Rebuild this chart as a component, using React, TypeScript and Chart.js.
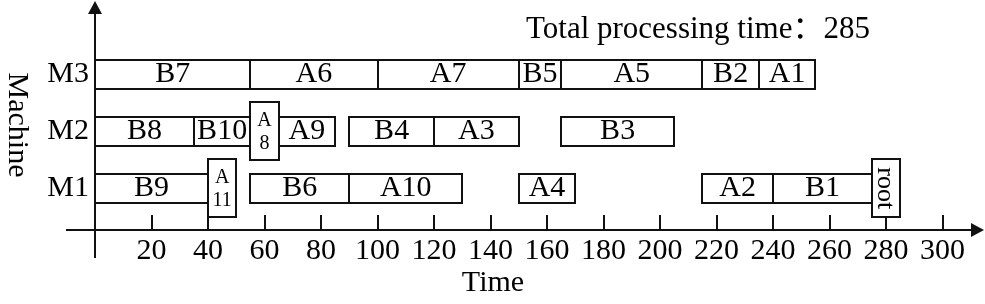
import React, { useEffect, useRef } from 'react';
import { Chart, registerables } from 'chart.js';
Chart.register(...registerables);

// ---- data ----
const tasks = ['B7', 'A6', 'A7', 'B5', 'A5', 'B2', 'A1', 'B8', 'B10', 'A8', 'A9', 'B4', 'A3', 'B3', 'B9', 'A11', 'B6', 'A10', 'A4', 'A2', 'B1', 'root'];
const machines = [3, 3, 3, 3, 3, 3, 3, 2, 2, 2, 2, 2, 2, 2, 1, 1, 1, 1, 1, 1, 1, 1];
const starts = [0, 55, 100, 150, 165, 215, 235, 0, 35, 55, 65, 90, 120, 165, 0, 40, 55, 90, 150, 215, 240, 275];
const ends = [55, 100, 150, 165, 215, 235, 255, 35, 55, 65, 85, 120, 150, 205, 40, 50, 90, 130, 170, 240, 275, 285];
const tallTasks = ['A8', 'A11', 'root'];
const machineValues = [1, 2, 3];
const machineNames = ['M1', 'M2', 'M3'];
const xTicks = [20, 40, 60, 80, 100, 120, 140, 160, 180, 200, 220, 240, 260, 280, 300];
const totalTime = 285;
const xTitle = 'Time';
const yTitle = 'Machine';

const FONT = '"Liberation Serif", "Times New Roman", "Noto Sans CJK SC", serif';
const LINE = '#111';
const FS = 30;

export default function App() {
  const ref = useRef<HTMLCanvasElement>(null);
  useEffect(() => {
    const canvas = ref.current;
    if (!canvas) return;
    const isTall = (i: number) => tallTasks.includes(tasks[i]);
    const datasets = tasks.map((name, i) => {
      const tall = isTall(i);
      return {
        label: name,
        data: [{ x: [starts[i], ends[i]], y: machines[i] }],
        backgroundColor: '#fff',
        borderColor: LINE,
        borderWidth: 0,
        borderSkipped: false,
        barThickness: tall ? 58 : 29,
        maxBarThickness: tall ? 58 : 29,
        grouped: false,
        order: tall ? 0 : 1,
        inflateAmount: 0,
      } as any;
    });

    const overlay = {
      id: 'overlay',
      beforeDatasetsDraw(chart: any) {
        const { ctx, scales } = chart;
        const x = scales.x, y = scales.y;
        const x0 = Math.round(x.getPixelForValue(0));
        const yb = Math.round(y.getPixelForValue(y.min));
        ctx.save();
        ctx.strokeStyle = LINE;
        ctx.fillStyle = LINE;
        ctx.lineWidth = 2;
        // horizontal axis
        const xl = x0 - 29;
        const tipX = chart.width - 1;
        ctx.beginPath();
        ctx.moveTo(xl, yb);
        ctx.lineTo(tipX - 10, yb);
        ctx.stroke();
        ctx.beginPath();
        ctx.moveTo(tipX, yb);
        ctx.lineTo(tipX - 13, yb - 7);
        ctx.lineTo(tipX - 13, yb + 7);
        ctx.closePath();
        ctx.fill();
        // vertical axis
        const tipY = 1;
        ctx.beginPath();
        ctx.moveTo(x0, yb + 28);
        ctx.lineTo(x0, tipY + 10);
        ctx.stroke();
        ctx.beginPath();
        ctx.moveTo(x0, tipY);
        ctx.lineTo(x0 - 7, tipY + 13);
        ctx.lineTo(x0 + 7, tipY + 13);
        ctx.closePath();
        ctx.fill();
        // tick marks (inward)
        for (const v of xTicks) {
          const px = Math.round(x.getPixelForValue(v));
          ctx.beginPath();
          ctx.moveTo(px, yb);
          ctx.lineTo(px, yb - 15);
          ctx.stroke();
        }
        ctx.restore();
      },
      afterDatasetsDraw(chart: any) {
        const { ctx } = chart;
        ctx.save();
        // outlines: normal bars first, then tall boxes on top
        const metas = chart.data.datasets.map((ds: any, di: number) => ({ ds, el: chart.getDatasetMeta(di).data[0] }));
        const drawBox = (el: any, fill: boolean) => {
          const p = el.getProps(['x', 'base', 'y', 'height'], true);
          const l = Math.round(Math.min(p.x, p.base));
          const r = Math.round(Math.max(p.x, p.base));
          const t = Math.round(p.y - p.height / 2);
          const b = Math.round(p.y + p.height / 2);
          if (fill) {
            ctx.fillStyle = '#fff';
            ctx.fillRect(l, t, r - l, b - t);
          }
          ctx.strokeStyle = LINE;
          ctx.lineWidth = 2;
          ctx.strokeRect(l, t, r - l, b - t);
        };
        metas.filter((m: any) => m.el && !tallTasks.includes(m.ds.label)).forEach((m: any) => drawBox(m.el, false));
        metas.filter((m: any) => m.el && tallTasks.includes(m.ds.label)).forEach((m: any) => drawBox(m.el, true));

        ctx.fillStyle = '#000';
        ctx.textAlign = 'center';
        ctx.textBaseline = 'middle';
        metas.forEach((m: any) => {
          if (!m.el) return;
          const p = m.el.getProps(['x', 'base', 'y', 'height'], true);
          const cx = (p.x + p.base) / 2;
          const cy = p.y;
          const name: string = m.ds.label;
          if (name === 'root') {
            ctx.save();
            ctx.translate(cx, cy);
            ctx.rotate(Math.PI / 2);
            ctx.font = `26px ${FONT}`;
            ctx.fillText(name, 0, 1);
            ctx.restore();
          } else if (tallTasks.includes(name)) {
            ctx.font = `20px ${FONT}`;
            ctx.fillText(name.slice(0, 1), cx, cy - 11);
            ctx.fillText(name.slice(1), cx, cy + 12);
          } else {
            ctx.font = `${FS}px ${FONT}`;
            ctx.fillText(name, cx, cy);
          }
        });
        // titles
        ctx.font = `${FS}px ${FONT}`;
        ctx.fillText(xTitle, 493, 283);
        ctx.save();
        ctx.translate(17, 125);
        ctx.rotate(Math.PI / 2);
        ctx.fillText(yTitle, 0, 0);
        ctx.restore();
        ctx.textAlign = 'left';
        ctx.textBaseline = 'alphabetic';
        ctx.font = `31px ${FONT}`;
        ctx.fillText(`Total processing time：${totalTime}`, 526, 38);
        ctx.restore();
      },
    };

    const chart = new Chart(canvas, {
      type: 'bar',
      data: { datasets },
      options: {
        indexAxis: 'y',
        animation: false,
        responsive: false,
        maintainAspectRatio: false,
        layout: { padding: { top: 20, right: 42.5, left: 0, bottom: 0 } },
        plugins: { legend: { display: false }, tooltip: { enabled: false }, title: { display: false } },
        scales: {
          x: {
            type: 'linear',
            position: 'bottom',
            offset: false,
            min: 0,
            max: 300,
            grid: { display: false, drawTicks: false, offset: false },
            border: { display: false },
            afterBuildTicks: (s: any) => { s.ticks = xTicks.map((v) => ({ value: v })); },
            afterFit: (s: any) => { s.height = 74; },
            ticks: { font: { family: FONT, size: FS }, color: '#000', padding: 3, maxRotation: 0, autoSkip: false },
          },
          y: {
            type: 'linear',
            offset: false,
            min: 0.267,
            max: 3.888,
            grid: { display: false, drawTicks: false, offset: false },
            border: { display: false },
            afterBuildTicks: (s: any) => { s.ticks = machineValues.map((v) => ({ value: v })); },
            afterFit: (s: any) => { s.width = 95; },
            ticks: {
              font: { family: FONT, size: FS },
              color: '#000',
              padding: 6,
              callback: (v: any) => machineNames[machineValues.indexOf(Number(v))],
            },
          },
        },
      } as any,
      plugins: [overlay],
    });
    return () => chart.destroy();
  }, []);

  return (
    <div style={{ position: 'fixed', left: 0, top: 0, width: 985, height: 304, background: '#fff' }}>
      <canvas ref={ref} width={985} height={304} style={{ width: 985, height: 304, display: 'block' }} />
    </div>
  );
}
